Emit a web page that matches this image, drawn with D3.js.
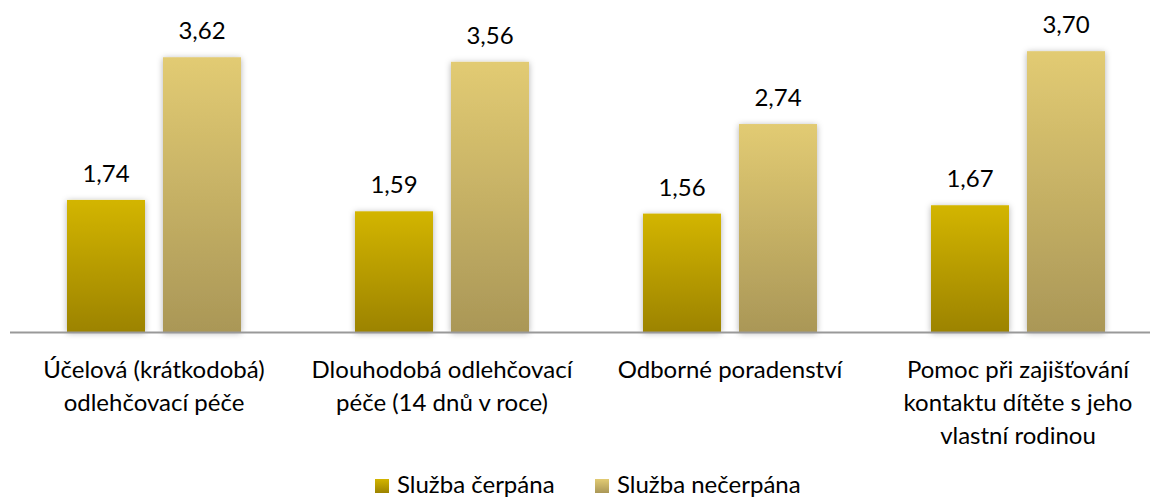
<!DOCTYPE html>
<html>
<head>
<meta charset="utf-8">
<script src="https://cdn.jsdelivr.net/npm/d3@7"></script>
<style>
    body { margin: 0; background: #fff; }
    svg { display: block; }
</style>
</head>
<body>
<div id="chart"></div>
<script>
const categories = [
    ["Účelová (krátkodobá)", "odlehčovací péče"],
    ["Dlouhodobá odlehčovací", "péče (14 dnů v roce)"],
    ["Odborné poradenství"],
    ["Pomoc při zajišťování", "kontaktu dítěte s jeho", "vlastní rodinou"]
];
const seriesNames = ["Služba čerpána", "Služba nečerpána"];
const cerpana = [1.74, 1.59, 1.56, 1.67];
const necerpana = [3.62, 3.56, 2.74, 3.70];

const FONT = "Lato, 'Open Sans', sans-serif";
const FONT_SIZE = 24;

const width = 1150;
const height = 499;
const baseY = 332;

const svg = d3.select("#chart")
    .append("svg")
    .attr("width", width)
    .attr("height", height);

const defs = svg.append("defs");

const gradColors = [
    ["#D3B500", "#9C8300"],
    ["#E2CB73", "#AA9757"]
];
gradColors.forEach((c, i) => {
    const g = defs.append("linearGradient")
        .attr("id", "grad" + i)
        .attr("x1", 0).attr("y1", 0)
        .attr("x2", 0).attr("y2", 1);
    g.append("stop").attr("offset", "0%").attr("stop-color", c[0]);
    g.append("stop").attr("offset", "100%").attr("stop-color", c[1]);
});

const shadow = defs.append("filter")
    .attr("id", "shadow")
    .attr("x", "-20%").attr("y", "-20%")
    .attr("width", "140%").attr("height", "140%");
shadow.append("feDropShadow")
    .attr("dx", 0)
    .attr("dy", 1)
    .attr("stdDeviation", 3)
    .attr("flood-color", "#000")
    .attr("flood-opacity", 0.3);

const x0 = d3.scaleBand()
    .domain(d3.range(categories.length))
    .range([10, 10 + 288 * categories.length])
    .padding(0);

const x1 = d3.scaleBand()
    .domain([0, 1])
    .range([57, 231])
    .paddingInner(18 / 96)
    .paddingOuter(0);

const y = d3.scaleLinear()
    .domain([0, 4])
    .range([baseY, baseY - 303.6]);

const data = [];
categories.forEach((c, i) => {
    data.push({ cat: i, s: 0, value: cerpana[i] });
    data.push({ cat: i, s: 1, value: necerpana[i] });
});

const fmt = v => v.toFixed(2).replace(".", ",");

svg.append("g")
    .selectAll("rect")
    .data(data)
    .join("rect")
    .attr("x", d => x0(d.cat) + x1(d.s))
    .attr("y", d => y(d.value))
    .attr("width", x1.bandwidth())
    .attr("height", d => y(0) - y(d.value))
    .attr("fill", d => "url(#grad" + d.s + ")")
    .attr("filter", "url(#shadow)");

// axis line
svg.append("line")
    .attr("x1", 10)
    .attr("x2", width)
    .attr("y1", baseY + 0.5)
    .attr("y2", baseY + 0.5)
    .attr("stroke", "#999")
    .attr("stroke-width", 2);

svg.append("g")
    .selectAll("text")
    .data(data)
    .join("text")
    .attr("x", d => x0(d.cat) + x1(d.s) + x1.bandwidth() / 2)
    .attr("y", d => y(d.value) - 18)
    .attr("text-anchor", "middle")
    .attr("font-family", FONT)
    .attr("font-size", FONT_SIZE)
    .attr("fill", "#000")
    .text(d => fmt(d.value));

const labels = svg.append("g")
    .selectAll("text")
    .data(categories)
    .join("text")
    .attr("text-anchor", "middle")
    .attr("font-family", FONT)
    .attr("font-size", FONT_SIZE)
    .attr("fill", "#000");

labels.selectAll("tspan")
    .data((d, i) => d.map(t => ({ t, i })))
    .join("tspan")
    .attr("x", d => x0(d.i) + x0.bandwidth() / 2)
    .attr("y", (d, j) => 378 + j * 33)
    .text(d => d.t);

// legend
const legendX = [375, 595];
const legend = svg.append("g")
    .selectAll("g")
    .data(seriesNames)
    .join("g")
    .attr("transform", (d, i) => "translate(" + legendX[i] + ",479)");

legend.append("rect")
    .attr("width", 14)
    .attr("height", 14)
    .attr("fill", (d, i) => "url(#grad" + i + ")");

legend.append("text")
    .attr("x", 22)
    .attr("y", 14)
    .attr("font-family", FONT)
    .attr("font-size", FONT_SIZE)
    .attr("fill", "#000")
    .text(d => d);
</script>
</body>
</html>
